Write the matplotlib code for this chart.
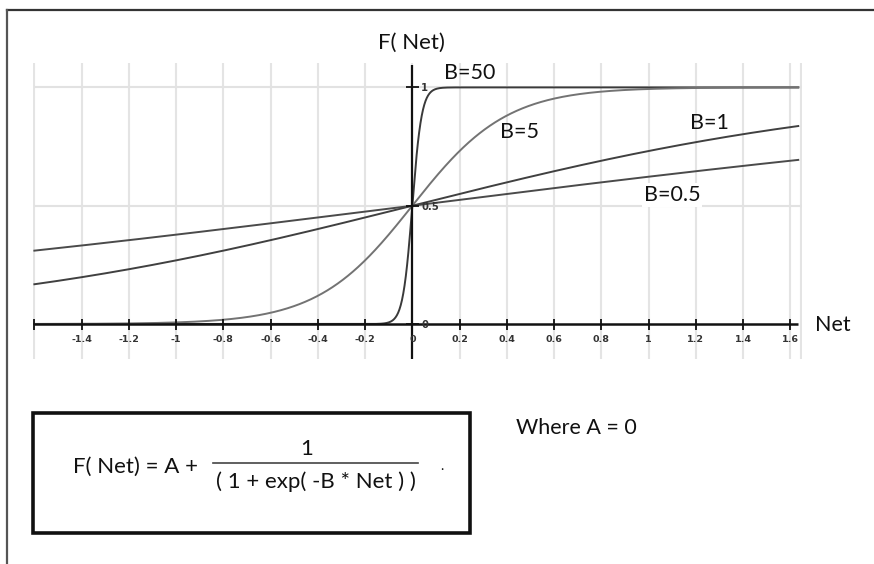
import numpy as np
import matplotlib
matplotlib.use('Agg')
import matplotlib.pyplot as plt
from matplotlib.patches import Rectangle

plt.rcParams['font.family'] = ['Lato', 'DejaVu Sans']

# ---------------- data ----------------
b_values = [50, 5, 1, 0.5]
b_labels = ['B=50', 'B=5', 'B=1', 'B=0.5']
line_colors = ['#3a3a3a', '#737373', '#404040', '#4a4a4a']
net_min, net_max = -1.6, 1.634
x_ticks = [-1.6, -1.4, -1.2, -1.0, -0.8, -0.6, -0.4, -0.2, 0.0, 0.2, 0.4, 0.6, 0.8, 1.0, 1.2, 1.4, 1.6]
x_tick_labels = ['', '-1.4', '-1.2', '-1', '-0.8', '-0.6', '-0.4', '-0.2', '0', '0.2', '0.4', '0.6', '0.8', '1', '1.2', '1.4', '1.6']
y_ticks = [0, 0.5, 1]
y_tick_labels = ['0', '0.5', '1']
A = 0

W, H = 874, 564
fig = plt.figure(figsize=(W / 100, H / 100), dpi=100)

# pixel overlay for the frame / formula box
over = fig.add_axes([0, 0, 1, 1])
over.set_xlim(0, W)
over.set_ylim(H, 0)
over.axis('off')

# pixel mapping of the plot: 0 at x=412.3, 236.2 px per unit; y=0 at 324, 236.6 px per unit
px0, sx = 412.3, 236.2
py0, sy = 324.0, 236.6
left_px, right_px, top_px, bot_px = 33, 802, 63, 359
ax = fig.add_axes([left_px / W, 1 - bot_px / H, (right_px - left_px) / W, (bot_px - top_px) / H])
ax.set_xlim((left_px - px0) / sx, (right_px - px0) / sx)
ax.set_ylim((py0 - bot_px) / sy, (py0 - top_px) / sy)
ax.axis('off')

# grid
for xt in x_ticks + [(right_px - px0) / sx - 0.004]:
    ax.axvline(xt, color='#e4e4e4', lw=1.5, zorder=0)
for yt in [0.5, 1.0]:
    ax.hlines(yt, net_min, (right_px - px0) / sx, color='#e2e2e2', lw=1.5, zorder=0)

# axes lines
ax.hlines(0, net_min, net_max, color='#111111', lw=1.8, zorder=3)
ax.vlines(0, (py0 - bot_px) / sy, (py0 - 65) / sy, color='#111111', lw=1.6, zorder=3)

tx = 5.5 / sy
for xt, lab in zip(x_ticks, x_tick_labels):
    ax.vlines(xt, -tx, tx, color='#111111', lw=1.3, zorder=3)
    if lab:
        ax.text(xt, -15 / sy, lab, ha='center', va='center', fontsize=6.8,
                family='DejaVu Sans', color='#333333', weight='bold')
ty = 6.5 / sx
for yt, lab in zip(y_ticks, y_tick_labels):
    ax.hlines(yt, -ty, ty, color='#111111', lw=1.3, zorder=3)
    ax.text(9 / sx, yt - 1 / sy, lab, ha='left', va='center', fontsize=7.2,
            family='DejaVu Sans', color='#333333', weight='bold')

# curves from the formula shown in the chart
net = np.linspace(net_min, net_max, 1200)
for b, c in zip(b_values, line_colors):
    f = A + 1.0 / (1.0 + np.exp(-b * net))
    ax.plot(net, f, color=c, lw=1.4, zorder=2)

# curve labels
label_px = [(470, 73), (519, 131.5), (709, 123), (672, 195)]
for lab, (lx, ly) in zip(b_labels, label_px):
    bg = dict(facecolor='white', edgecolor='none', pad=1.5) if lab == 'B=0.5' else None
    ax.text((lx - px0) / sx, (py0 - ly) / sy, lab, ha='center', va='center',
            fontsize=15.5, color='#111111', bbox=bg, zorder=4)

# axis titles
over.text(411, 43, 'F( Net)', ha='center', va='center', fontsize=16, color='#111111')
over.text(815, 325, 'Net', ha='left', va='center', fontsize=15.5, color='#111111')

# outer frame (top and left)
over.plot([7, W], [9.5, 9.5], color='#333333', lw=1.6)
over.plot([7, 7], [9.5, H], color='#555555', lw=1.6)

# formula box
over.add_patch(Rectangle((33, 413), 437, 120, fill=False, edgecolor='#111111', lw=2.6))
over.text(73, 467, 'F( Net) = A +', ha='left', va='center', fontsize=16, color='#111111')
over.text(307, 449, '1', ha='center', va='center', fontsize=16, color='#111111')
over.plot([213, 418], [463, 463], color='#444444', lw=1.2)
over.text(316, 482, '( 1 + exp( -B * Net ) )', ha='center', va='center', fontsize=16, color='#111111')
over.text(442, 466, '.', ha='center', va='center', fontsize=10, color='#111111')
over.text(516, 428, 'Where A = 0', ha='left', va='center', fontsize=15.5, color='#111111')

fig.savefig('out.png', dpi=100, facecolor='white')
